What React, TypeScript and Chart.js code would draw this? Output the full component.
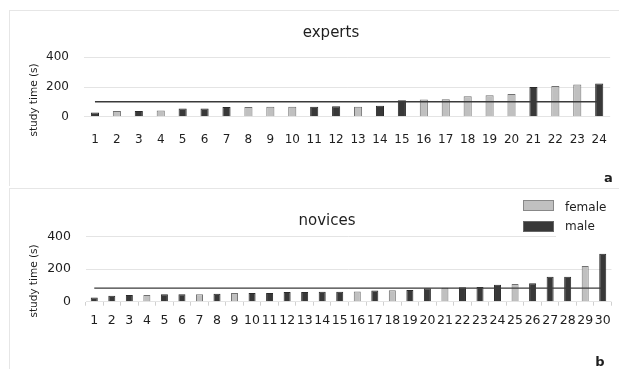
import React, { useEffect, useRef } from "react";
import { Chart, registerables } from "chart.js";

Chart.register(...registerables);

// ---------- data ----------
const expertLabels = ["1","2","3","4","5","6","7","8","9","10","11","12","13","14","15","16","17","18","19","20","21","22","23","24"];
const expertTimes = [29,38,38,42,56,56,65,65,67,67,67,71,67,73,111,116,118,138,145,153,200,207,216,223];
const expertGender = ["m","f","m","f","m","m","m","f","f","f","m","m","f","m","m","f","f","f","f","f","m","f","f","m"];
const expertMean = 101;

const noviceLabels = ["1","2","3","4","5","6","7","8","9","10","11","12","13","14","15","16","17","18","19","20","21","22","23","24","25","26","27","28","29","30"];
const noviceTimes = [25,37,41,41,45,45,45,49,53,53,53,59,59,61,61,62,68,70,72,82,86,88,90,103,109,113,152,152,219,293];
const noviceGender = ["m","m","m","f","m","m","f","m","f","m","m","m","m","m","m","f","m","f","m","m","f","m","m","m","f","m","m","m","f","m"];
const noviceMean = 83;

const yTicks = [0, 200, 400];
const seriesNames = ["female", "male"];

// ---------- styles ----------
const FONT = "'DejaVu Sans', Verdana, sans-serif";
const LIGHT = "#c0c0c0";
const LIGHT_BORDER = "#707070";
const DARK = "#383838";
const DARK_BORDER = "#2a2a2a";
const GRID = "#e4e4e4";
const TEXT = "#1e1e1e";

type PanelOpts = {
  labels: string[];
  times: number[];
  gender: string[];
  mean: number;
  barPct: number;
  yWidth: number;
  padTop: number;
  padBottom: number;
  xHeight: number;
  xPad: number;
  yPad: number;
  xFont: number;
  yFont: number;
  ticksMarks: boolean;
};

function buildConfig(o: PanelOpts): any {
  const female = o.times.map((v, i) => (o.gender[i] === "f" ? v : null));
  const male = o.times.map((v, i) => (o.gender[i] === "m" ? v : null));
  const meanLine = o.labels.map(() => o.mean);
  return {
    type: "bar",
    data: {
      labels: o.labels,
      datasets: [
        {
          type: "line",
          label: "mean",
          data: meanLine,
          borderColor: "#3a3a3a",
          borderWidth: 1.4,
          pointRadius: 0,
          order: 0,
        },
        {
          label: seriesNames[0],
          data: female,
          backgroundColor: LIGHT,
          borderColor: LIGHT_BORDER,
          borderWidth: 1,
          grouped: false,
          barPercentage: o.barPct,
          categoryPercentage: 1,
          order: 1,
        },
        {
          label: seriesNames[1],
          data: male,
          backgroundColor: DARK,
          borderColor: DARK_BORDER,
          borderWidth: 1,
          grouped: false,
          barPercentage: o.barPct,
          categoryPercentage: 1,
          order: 1,
        },
      ],
    },
    options: {
      responsive: false,
      animation: false,
      layout: { padding: { left: 0, right: 7.5, top: o.padTop, bottom: o.padBottom } },
      plugins: { legend: { display: false }, tooltip: { enabled: false }, title: { display: false } },
      scales: {
        x: {
          type: "category",
          border: { display: false },
          grid: {
            display: o.ticksMarks,
            drawOnChartArea: false,
            drawTicks: true,
            tickLength: 4,
            color: "#d0d0d0",
            offset: true,
          },
          ticks: {
            autoSkip: false,
            maxRotation: 0,
            minRotation: 0,
            padding: o.xPad,
            color: TEXT,
            font: { family: FONT, size: o.xFont },
          },
          afterFit: (s: any) => {
            s.height = o.xHeight;
          },
        },
        y: {
          min: 0,
          max: 400,
          border: { display: false },
          grid: { color: GRID, lineWidth: 1, drawTicks: false },
          afterBuildTicks: (s: any) => {
            s.ticks = yTicks.map((v) => ({ value: v }));
          },
          ticks: {
            padding: o.yPad,
            color: TEXT,
            font: { family: FONT, size: o.yFont },
          },
          afterFit: (s: any) => {
            s.width = o.yWidth;
          },
        },
      },
    },
  };
}

function Panel({ top, height, opts }: { top: number; height: number; opts: PanelOpts }) {
  const ref = useRef<HTMLCanvasElement | null>(null);
  useEffect(() => {
    if (!ref.current) return;
    const chart = new Chart(ref.current, buildConfig(opts));
    return () => chart.destroy();
  }, []);
  return (
    <canvas
      ref={ref}
      width={619}
      height={height}
      style={{ position: "absolute", left: 0, top, width: 619, height }}
    />
  );
}

const txt = (extra: React.CSSProperties): React.CSSProperties => ({
  position: "absolute",
  fontFamily: FONT,
  color: TEXT,
  whiteSpace: "nowrap",
  lineHeight: 1,
  transform: "translate(-50%, -50%)",
  ...extra,
});

export default function App() {
  const topOpts: PanelOpts = {
    labels: expertLabels,
    times: expertTimes,
    gender: expertGender,
    mean: expertMean,
    barPct: 0.37,
    yWidth: 84,
    padTop: 57.3,
    padBottom: 38.3,
    xHeight: 30,
    xPad: 12,
    yPad: 15,
    xFont: 12,
    yFont: 12,
    ticksMarks: false,
  };
  const botOpts: PanelOpts = {
    labels: noviceLabels,
    times: noviceTimes,
    gender: noviceGender,
    mean: noviceMean,
    barPct: 0.4,
    yWidth: 85.5,
    padTop: 51.3,
    padBottom: 37.3,
    xHeight: 30,
    xPad: 8,
    yPad: 14.5,
    xFont: 12.5,
    yFont: 12.5,
    ticksMarks: true,
  };
  return (
    <div style={{ position: "absolute", left: 0, top: 0, width: 619, height: 369, background: "#fff", overflow: "hidden" }}>
      {/* panel frames */}
      <div style={{ position: "absolute", left: 9, top: 10, width: 610, height: 1, background: "#e6e6e6" }} />
      <div style={{ position: "absolute", left: 9, top: 10, width: 1, height: 176, background: "#e6e6e6" }} />
      <div style={{ position: "absolute", left: 9, top: 188, width: 610, height: 1, background: "#e6e6e6" }} />
      <div style={{ position: "absolute", left: 9, top: 188, width: 1, height: 181, background: "#e6e6e6" }} />

      <Panel top={0} height={185} opts={topOpts} />
      <Panel top={185} height={184} opts={botOpts} />

      {/* titles */}
      <div style={txt({ left: 331, top: 32, fontSize: 15 })}>experts</div>
      <div style={txt({ left: 327, top: 220, fontSize: 15 })}>novices</div>

      {/* y axis titles */}
      <div style={txt({ left: 33, top: 100, fontSize: 10.5, transform: "translate(-50%, -50%) rotate(-90deg)" })}>study time (s)</div>
      <div style={txt({ left: 33, top: 281, fontSize: 10.5, transform: "translate(-50%, -50%) rotate(-90deg)" })}>study time (s)</div>

      {/* panel letters */}
      <div style={txt({ left: 608.5, top: 177, fontSize: 13, fontWeight: "bold" })}>a</div>
      <div style={txt({ left: 600, top: 361, fontSize: 13, fontWeight: "bold" })}>b</div>

      {/* legend */}
      <div style={{ position: "absolute", left: 556, top: 195, width: 63, height: 43, background: "#fff" }} />
      <div style={{ position: "absolute", left: 523, top: 200, width: 29, height: 9, background: LIGHT, border: "1px solid #888" }} />
      <div style={{ position: "absolute", left: 523, top: 221, width: 29, height: 9, background: DARK, border: "1px solid #666" }} />
      <div style={txt({ left: 565, top: 206.5, fontSize: 12, transform: "translate(0, -50%)" })}>{seriesNames[0]}</div>
      <div style={txt({ left: 565, top: 226, fontSize: 12, transform: "translate(0, -50%)" })}>{seriesNames[1]}</div>
    </div>
  );
}
